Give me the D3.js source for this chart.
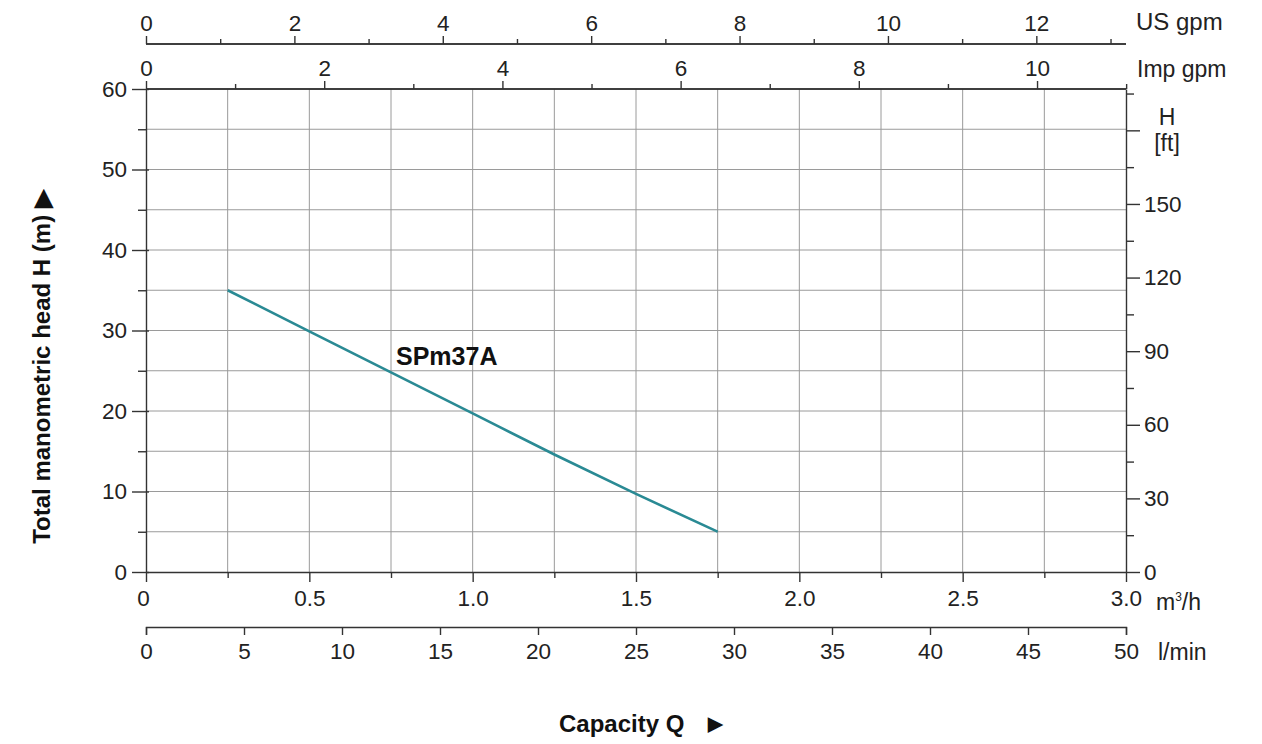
<!DOCTYPE html>
<html lang="en">
    <head>
        <meta charset="utf-8">
        <title>SPm37A curve</title>
        <script type="text/javascript" src="https://d3js.org/d3.v7.min.js"></script>
        <style type="text/css">
            body{ margin:0; background:#fff; }
            text{ font-family: "Liberation Sans", Arial, sans-serif; fill:#222; }
            .axis path, .axis line{ stroke:#333; stroke-width:1.4px; }
            .grid line{ stroke:#9a9a9a; stroke-width:1px; }
            .bold{ font-weight:bold; fill:#111; }
        </style>
    </head>
    <body>
        <svg id="chart" width="1262" height="744"></svg>
        <script type="text/javascript">
        //data
        const flowQ = [0.25, 0.5, 0.75, 1.0, 1.25, 1.5, 1.75];      // m3/h
        const headH = [35.0, 29.9, 24.8, 19.7, 14.6, 9.7, 5.0];     // m
        const curveName = "SPm37A";
        const m3hTicks = [0, 0.5, 1.0, 1.5, 2.0, 2.5, 3.0];
        const lminTicks = [0, 5, 10, 15, 20, 25, 30, 35, 40, 45, 50];
        const usTicks = [0, 2, 4, 6, 8, 10, 12];
        const impTicks = [0, 2, 4, 6, 8, 10];
        const headTicks = [0, 10, 20, 30, 40, 50, 60];
        const ftTicks = [0, 30, 60, 90, 120, 150];

        const svg = d3.select("#chart");
        const pL = 146, pR = 1126, pT = 89, pB = 572;
        const tickFont = 22.5, unitFont = 23, boldFont = 24;

        //scales
        const x = d3.scaleLinear().domain([0, 3]).range([pL, pR]);
        const y = d3.scaleLinear().domain([0, 60]).range([pB, pT]);
        const xUS = d3.scaleLinear().domain([0, 3 / 0.227125]).range([pL, pR]);
        const xImp = d3.scaleLinear().domain([0, 3 / 0.272766]).range([pL, pR]);
        const xL = d3.scaleLinear().domain([0, 50]).range([pL, pR]);
        const yFt = d3.scaleLinear().domain([0, 60 * 3.28084]).range([pB, pT]);

        //grid
        const grid = svg.append("g").attr("class", "grid");
        grid.selectAll(".v").data(d3.range(0.25, 3, 0.25)).join("line").attr("class", "v")
            .attr("x1", d => x(d)).attr("x2", d => x(d))
            .attr("y1", pT).attr("y2", pB);
        grid.selectAll(".h").data(d3.range(5, 60, 5)).join("line").attr("class", "h")
            .attr("y1", d => y(d)).attr("y2", d => y(d))
            .attr("x1", pL).attr("x2", pR);

        //helper to style tick labels
        function fmt(g, size){
            g.select(".domain").attr("stroke", "#333");
            g.selectAll("text").style("font-size", size + "px").attr("fill", "#222");
        }

        //left axis (m)
        svg.append("g").attr("class", "axis").attr("transform", `translate(${pL},0)`)
            .call(d3.axisLeft(y).tickValues(d3.range(5, 60, 10)).tickSize(8).tickFormat(""))
            .call(g => g.select(".domain").remove());
        svg.append("g").attr("class", "axis").attr("transform", `translate(${pL},0)`)
            .call(d3.axisLeft(y).tickValues(headTicks).tickSize(14).tickPadding(5).tickSizeOuter(0))
            .call(g => fmt(g, tickFont))
            .call(g => g.selectAll(".tick line").attr("x2", 3).attr("x1", -14));

        //right axis (ft)
        svg.append("g").attr("class", "axis").attr("transform", `translate(${pR},0)`)
            .call(d3.axisRight(yFt).tickValues(d3.range(15, 200, 30)).tickSize(8).tickFormat(""))
            .call(g => g.select(".domain").remove());
        svg.append("g").attr("class", "axis").attr("transform", `translate(${pR},0)`)
            .call(d3.axisRight(yFt).tickValues(ftTicks.concat([180])).tickSize(14).tickPadding(4).tickSizeOuter(0)
                .tickFormat(d => d === 180 ? "" : d))
            .call(g => fmt(g, tickFont));
        svg.append("text").attr("x", 1167).attr("y", 125).attr("text-anchor", "middle")
            .style("font-size", unitFont + "px").text("H");
        svg.append("text").attr("x", 1167).attr("y", 151).attr("text-anchor", "middle")
            .style("font-size", unitFont + "px").text("[ft]");

        //bottom axis m3/h
        svg.append("g").attr("class", "axis").attr("transform", `translate(0,${pB})`)
            .call(d3.axisBottom(x).tickValues(d3.range(0.25, 3, 0.5)).tickSize(6).tickFormat(""))
            .call(g => g.select(".domain").remove());
        svg.append("g").attr("class", "axis").attr("transform", `translate(0,${pB})`)
            .call(d3.axisBottom(x).tickValues(m3hTicks).tickSize(10).tickPadding(8).tickSizeOuter(0)
                .tickFormat(d => d === 0 ? "0" : d3.format(".1f")(d)))
            .call(g => fmt(g, tickFont))
            .call(g => g.selectAll(".tick text").attr("dx", d => d === 0 ? -3 : 0));
        const unitM3 = svg.append("text").attr("x", 1156).attr("y", 610).style("font-size", unitFont + "px");
        unitM3.append("tspan").text("m");
        unitM3.append("tspan").attr("dy", -9).style("font-size", "12px").text("3");
        unitM3.append("tspan").attr("dy", 9).text("/h");

        //bottom axis l/min
        svg.append("g").attr("class", "axis").attr("transform", "translate(0,627)")
            .call(d3.axisBottom(xL).tickValues(lminTicks).tickSize(8).tickPadding(8).tickSizeOuter(8))
            .call(g => fmt(g, tickFont));
        svg.append("text").attr("x", 1158).attr("y", 660).style("font-size", unitFont + "px").text("l/min");

        //top axis US gpm
        svg.append("g").attr("class", "axis").attr("transform", "translate(0,44)")
            .call(d3.axisTop(xUS).tickValues(d3.range(1, 14, 2)).tickSize(5).tickFormat(""))
            .call(g => g.select(".domain").attr("d", `M${pL},0H${pR}`));
        svg.append("g").attr("class", "axis").attr("transform", "translate(0,44)")
            .call(d3.axisTop(xUS).tickValues(usTicks).tickSize(8).tickPadding(5).tickSizeOuter(0))
            .call(g => fmt(g, tickFont))
            .call(g => g.select(".domain").attr("d", `M${pL},0H${pR}`));
        svg.append("text").attr("x", 1136).attr("y", 30).style("font-size", "24px").text("US gpm");

        //top axis Imp gpm
        svg.append("g").attr("class", "axis").attr("transform", `translate(0,${pT})`)
            .call(d3.axisTop(xImp).tickValues(d3.range(1, 12, 2)).tickSize(5).tickFormat(""))
            .call(g => g.select(".domain").attr("d", `M${pL},0H${pR}`));
        svg.append("g").attr("class", "axis").attr("transform", `translate(0,${pT})`)
            .call(d3.axisTop(xImp).tickValues(impTicks).tickSize(8).tickPadding(5).tickSizeOuter(0))
            .call(g => fmt(g, tickFont))
            .call(g => g.select(".domain").attr("d", `M${pL},0H${pR}`));
        svg.append("text").attr("x", 1137).attr("y", 77).style("font-size", unitFont + "px").text("Imp gpm");

        //curve
        const pts = flowQ.map((q, i) => [q, headH[i]]);
        const line = d3.line().x(d => x(d[0])).y(d => y(d[1])).curve(d3.curveMonotoneX);
        svg.append("path").datum(pts).attr("d", line)
            .attr("fill", "none").attr("stroke", "#2a8a94").attr("stroke-width", 2.6);
        svg.append("text").attr("class", "bold").attr("x", 396).attr("y", 365)
            .style("font-size", "25px").text(curveName);

        //axis titles
        svg.append("text").attr("class", "bold")
            .attr("transform", "translate(50,367) rotate(-90)").attr("text-anchor", "middle")
            .style("font-size", boldFont + "px").text("Total manometric head H (m)  \u25B6");
        svg.append("text").attr("class", "bold").attr("x", 559).attr("y", 732)
            .style("font-size", boldFont + "px").text("Capacity Q");
        svg.append("text").attr("class", "bold").attr("x", 708).attr("y", 730)
            .style("font-size", "19px").text("\u25B6");
        </script>
    </body>
</html>
